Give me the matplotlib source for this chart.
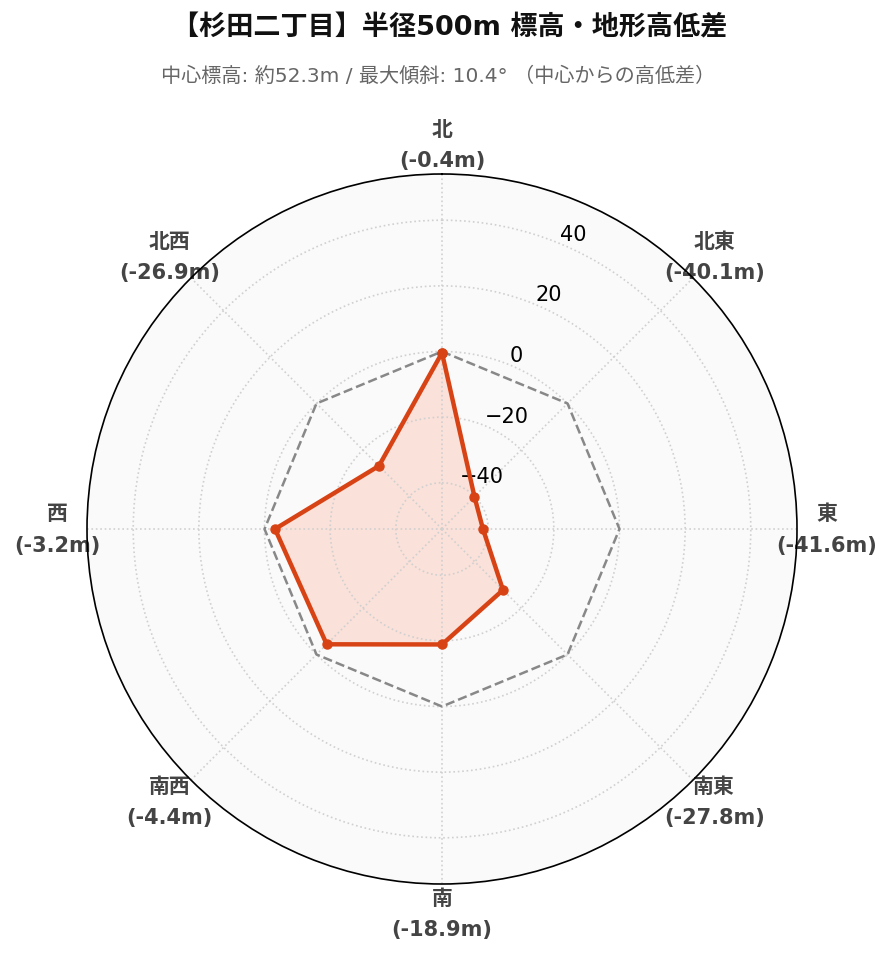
import numpy as np
import matplotlib
matplotlib.use('Agg')
import matplotlib.pyplot as plt

plt.rcParams['font.family'] = ['DejaVu Sans', 'Noto Sans CJK JP']

# data
directions = ['北', '北東', '東', '南東', '南', '南西', '西', '北西']
diffs = [-0.4, -40.1, -41.6, -27.8, -18.9, -4.4, -3.2, -26.9]
title = '【杉田二丁目】半径500m 標高・地形高低差'
subtitle = '中心標高: 約52.3m / 最大傾斜: 10.4° （中心からの高低差）'

angles = np.linspace(0, 2 * np.pi, len(directions), endpoint=False)
ang_c = np.append(angles, angles[0])
val_c = np.append(diffs, diffs[0])
lim = max(abs(v) for v in diffs) * 1.3

fig = plt.figure(figsize=(8.92, 9.62), dpi=100)
ax = fig.add_axes([87 / 892, 77 / 962, 710 / 892, 710 / 962], projection='polar')
ax.set_theta_offset(np.pi / 2)
ax.set_theta_direction(-1)
ax.set_facecolor('#fafafa')
ax.set_ylim(-lim, lim)
ax.set_yticks([-40, -20, 0, 20, 40])
ax.set_rlabel_position(22.5)
ax.tick_params(axis='y', labelsize=15, colors='black')

ax.set_xticks(angles)
ax.set_xticklabels([f'{d}\n({v}m)' for d, v in zip(directions, diffs)],
                   fontsize=15, fontweight='bold', color='#444444', linespacing=1.7)
ax.tick_params(axis='x', pad=11)
ax.grid(True, color='#d0d0d0', linestyle=':', linewidth=1.2)
ax.spines['polar'].set_color('black')
ax.spines['polar'].set_linewidth(1.2)

# zero reference
ax.plot(ang_c, np.zeros_like(ang_c), color='#888888', linestyle='--', linewidth=1.8)
ax.fill(ang_c, val_c, color='#ff5722', alpha=0.15, linewidth=0)
ax.plot(ang_c, val_c, color='#d84315', linewidth=3.2, marker='o', markersize=6.5)

fig.text(450 / 892, 1 - 28 / 962, title, ha='center', va='center',
         fontsize=19.5, fontweight='bold', color='#111111')
fig.text(438 / 892, 1 - 76 / 962, subtitle, ha='center', va='center',
         fontsize=14.5, color='#666666')

fig.savefig('out.png', dpi=100, facecolor='white')
